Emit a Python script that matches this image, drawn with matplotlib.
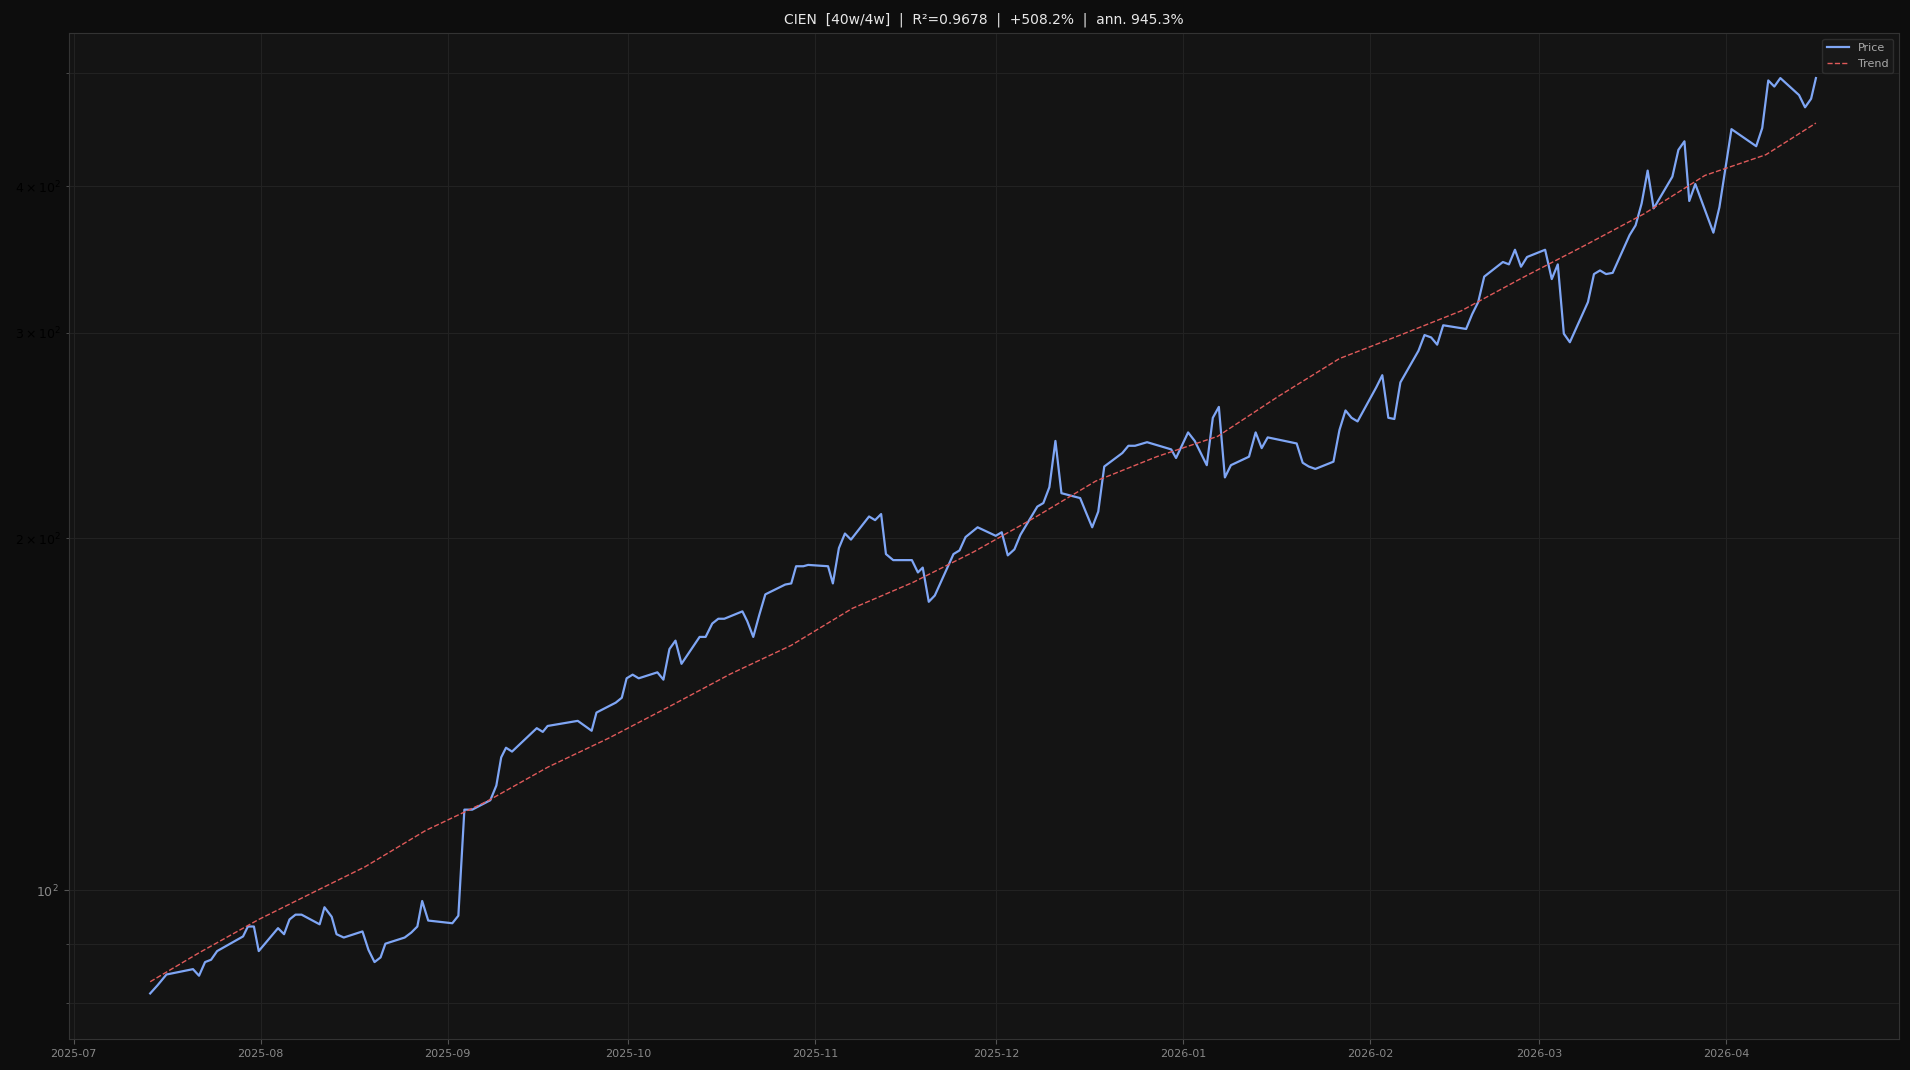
import matplotlib
matplotlib.use("Agg")
import matplotlib.pyplot as plt
import matplotlib.dates as mdates
import pandas as pd

# days since 2025-07-01 and closing price
price_days = [12.7, 13.9, 15.4, 19.8, 20.8, 21.8, 22.8, 23.8, 28.1, 28.9, 29.9, 30.7, 33.9, 34.9, 35.8, 36.8, 37.8,
              40.8, 41.6, 42.8, 43.6, 44.8, 47.9, 48.9, 49.9, 50.9, 51.7, 54.9, 56.0, 57.0, 57.8, 58.8, 62.8, 63.8,
              64.8, 66.1, 69.1, 70.1, 70.9, 71.7, 72.7, 76.8, 77.8, 78.6, 83.6, 84.8, 85.9, 86.7, 89.9, 90.9, 91.7,
              92.7, 93.7, 96.8, 97.8, 98.8, 99.8, 100.8, 103.8, 104.8, 105.9, 106.9, 107.9, 110.9, 111.7, 112.7,
              113.7, 114.7, 118.0, 119.0, 119.8, 121.0, 121.8, 125.1, 125.9, 126.9, 127.9, 128.9, 131.9, 132.9,
              133.9, 134.7, 135.9, 139.0, 140.0, 140.8, 141.8, 142.8, 145.9, 146.9, 147.9, 149.9, 152.9, 153.9,
              154.9, 156.0, 157.0, 159.8, 160.8, 161.8, 162.8, 163.8, 166.9, 167.9, 168.9, 169.9, 170.9, 173.9,
              174.9, 176.0, 178.0, 182.0, 182.8, 184.8, 185.9, 187.9, 188.9, 189.9, 190.9, 191.9, 194.9, 196.0,
              197.0, 198.0, 202.8, 203.8, 204.8, 205.9, 208.9, 209.9, 210.9, 211.9, 212.9, 216.0, 217.0, 218.0,
              219.0, 220.0, 223.0, 224.0, 225.1, 226.1, 227.1, 230.9, 231.9, 232.9, 233.9, 237.0, 238.0, 239.0,
              240.0, 241.0, 244.0, 245.1, 246.1, 247.1, 248.1, 251.1, 252.1, 253.1, 254.1, 255.2, 258.0, 259.0,
              260.0, 261.0, 262.0, 265.1, 266.1, 267.1, 267.9, 268.9, 271.9, 272.9, 273.9, 274.9, 279.0, 280.0,
              281.0, 282.0, 283.0, 286.1, 287.1, 288.1, 288.9]
price = [81.6, 82.9, 84.7, 85.6, 84.5, 86.8, 87.2, 88.7, 91.3, 93.1, 93.1, 88.7, 92.8, 91.7, 94.4, 95.3, 95.3,
         93.5, 96.7, 94.9, 91.7, 91.1, 92.2, 88.9, 86.8, 87.6, 90.0, 91.1, 92.0, 93.1, 97.9, 94.2, 93.7, 95.1,
         117.2, 117.2, 119.4, 122.9, 129.9, 132.4, 131.4, 137.6, 136.6, 138.2, 139.6, 138.2, 136.9, 141.9, 144.7,
         146.1, 151.8, 152.9, 151.8, 153.6, 151.4, 160.8, 163.5, 156.2, 164.7, 164.7, 169.1, 170.7, 170.7, 173.2,
         169.9, 164.7, 172.0, 179.1, 182.6, 183.0, 189.3, 189.3, 189.8, 189.3, 183.0, 196.2, 201.9, 199.5, 208.8,
         207.3, 209.8, 193.9, 191.6, 191.6, 187.0, 188.8, 176.5, 178.7, 193.9, 195.3, 200.5, 204.4, 201.0, 202.4,
         193.4, 195.7, 201.4, 212.9, 214.4, 221.2, 242.3, 218.6, 216.5, 210.3, 204.4, 210.8, 230.4, 236.6, 240.0,
         240.0, 241.7, 238.3, 234.3, 246.4, 242.3, 231.0, 253.6, 259.1, 225.5, 231.0, 234.9, 246.4, 238.9, 244.0,
         241.1, 232.1, 230.4, 229.3, 232.6, 247.6, 257.3, 253.6, 251.8, 269.3, 275.8, 253.6, 253.0, 271.9, 289.4,
         298.5, 297.1, 292.9, 304.3, 302.1, 311.0, 318.5, 334.9, 344.7, 343.1, 353.1, 341.5, 348.1, 353.1, 333.3,
         343.1, 299.3, 294.3, 318.5, 336.6, 339.0, 336.6, 337.4, 363.4, 370.5, 386.8, 412.7, 383.1, 407.8, 429.9,
         437.2, 388.7, 401.9, 365.2, 384.0, 414.7, 447.8, 433.0, 448.8, 492.9, 487.0, 495.2, 478.9, 467.5, 475.4,
         495.2]

trend_days = [12.7, 20.8, 30.7, 40.8, 48.3, 58.4, 68.5, 78.6, 88.7, 98.8, 108.9, 119.0, 129.1, 139.2, 149.3,
              159.4, 169.5, 179.6, 189.7, 199.8, 209.9, 220.0, 230.1, 240.2, 250.3, 260.4, 270.5, 280.6, 288.9]
trend = [83.5, 88.4, 94.4, 100.2, 104.7, 112.5, 119.1, 127.4, 134.9, 143.6, 153.1, 162.0, 174.2, 183.4, 194.8,
         208.4, 223.9, 234.9, 244.5, 264.6, 285.0, 298.5, 313.1, 334.1, 355.5, 379.0, 408.8, 425.8, 453.2]

title = "CIEN  [40w/4w]  |  R²=0.9678  |  +508.2%  |  ann. 945.3%"

start = pd.Timestamp("2025-07-01")
price_dates = [start + pd.Timedelta(days=d) for d in price_days]
trend_dates = [start + pd.Timedelta(days=d) for d in trend_days]

fig = plt.figure(figsize=(19.1, 10.7), dpi=100, facecolor="#0d0d0d")
ax = fig.add_axes([0.036, 0.029, 0.958, 0.94], facecolor="#141414")

ax.plot(price_dates, price, color="#7fa6f5", linewidth=1.6, label="Price")
ax.plot(trend_dates, trend, color="#e05a5a", linewidth=1.0, linestyle="--", label="Trend")

ax.set_yscale("log")
ax.set_ylim(74.6, 541)
ax.set_xlim(start + pd.Timedelta(days=-0.8), start + pd.Timedelta(days=302.6))
ax.xaxis.set_major_locator(mdates.MonthLocator())
ax.xaxis.set_major_formatter(mdates.DateFormatter("%Y-%m"))

ax.tick_params(axis="both", which="both", colors="#555555", labelsize=9)
ax.tick_params(axis="x", labelcolor="#888888", labelsize=8)
ax.tick_params(axis="y", which="major", labelcolor="#888888")
ax.tick_params(axis="y", which="minor", labelcolor="black")
for s in ax.spines.values():
    s.set_color("#333333")
ax.grid(True, which="both", color="#222222", linewidth=0.8)

ax.set_title(title, color="#e8e8e8", fontsize=10, pad=7)
leg = ax.legend(loc="upper right", fontsize=8, facecolor="#1a1a1a", edgecolor="#333333", labelcolor="#aaaaaa")

fig.savefig("out.png", dpi=100, facecolor=fig.get_facecolor())
